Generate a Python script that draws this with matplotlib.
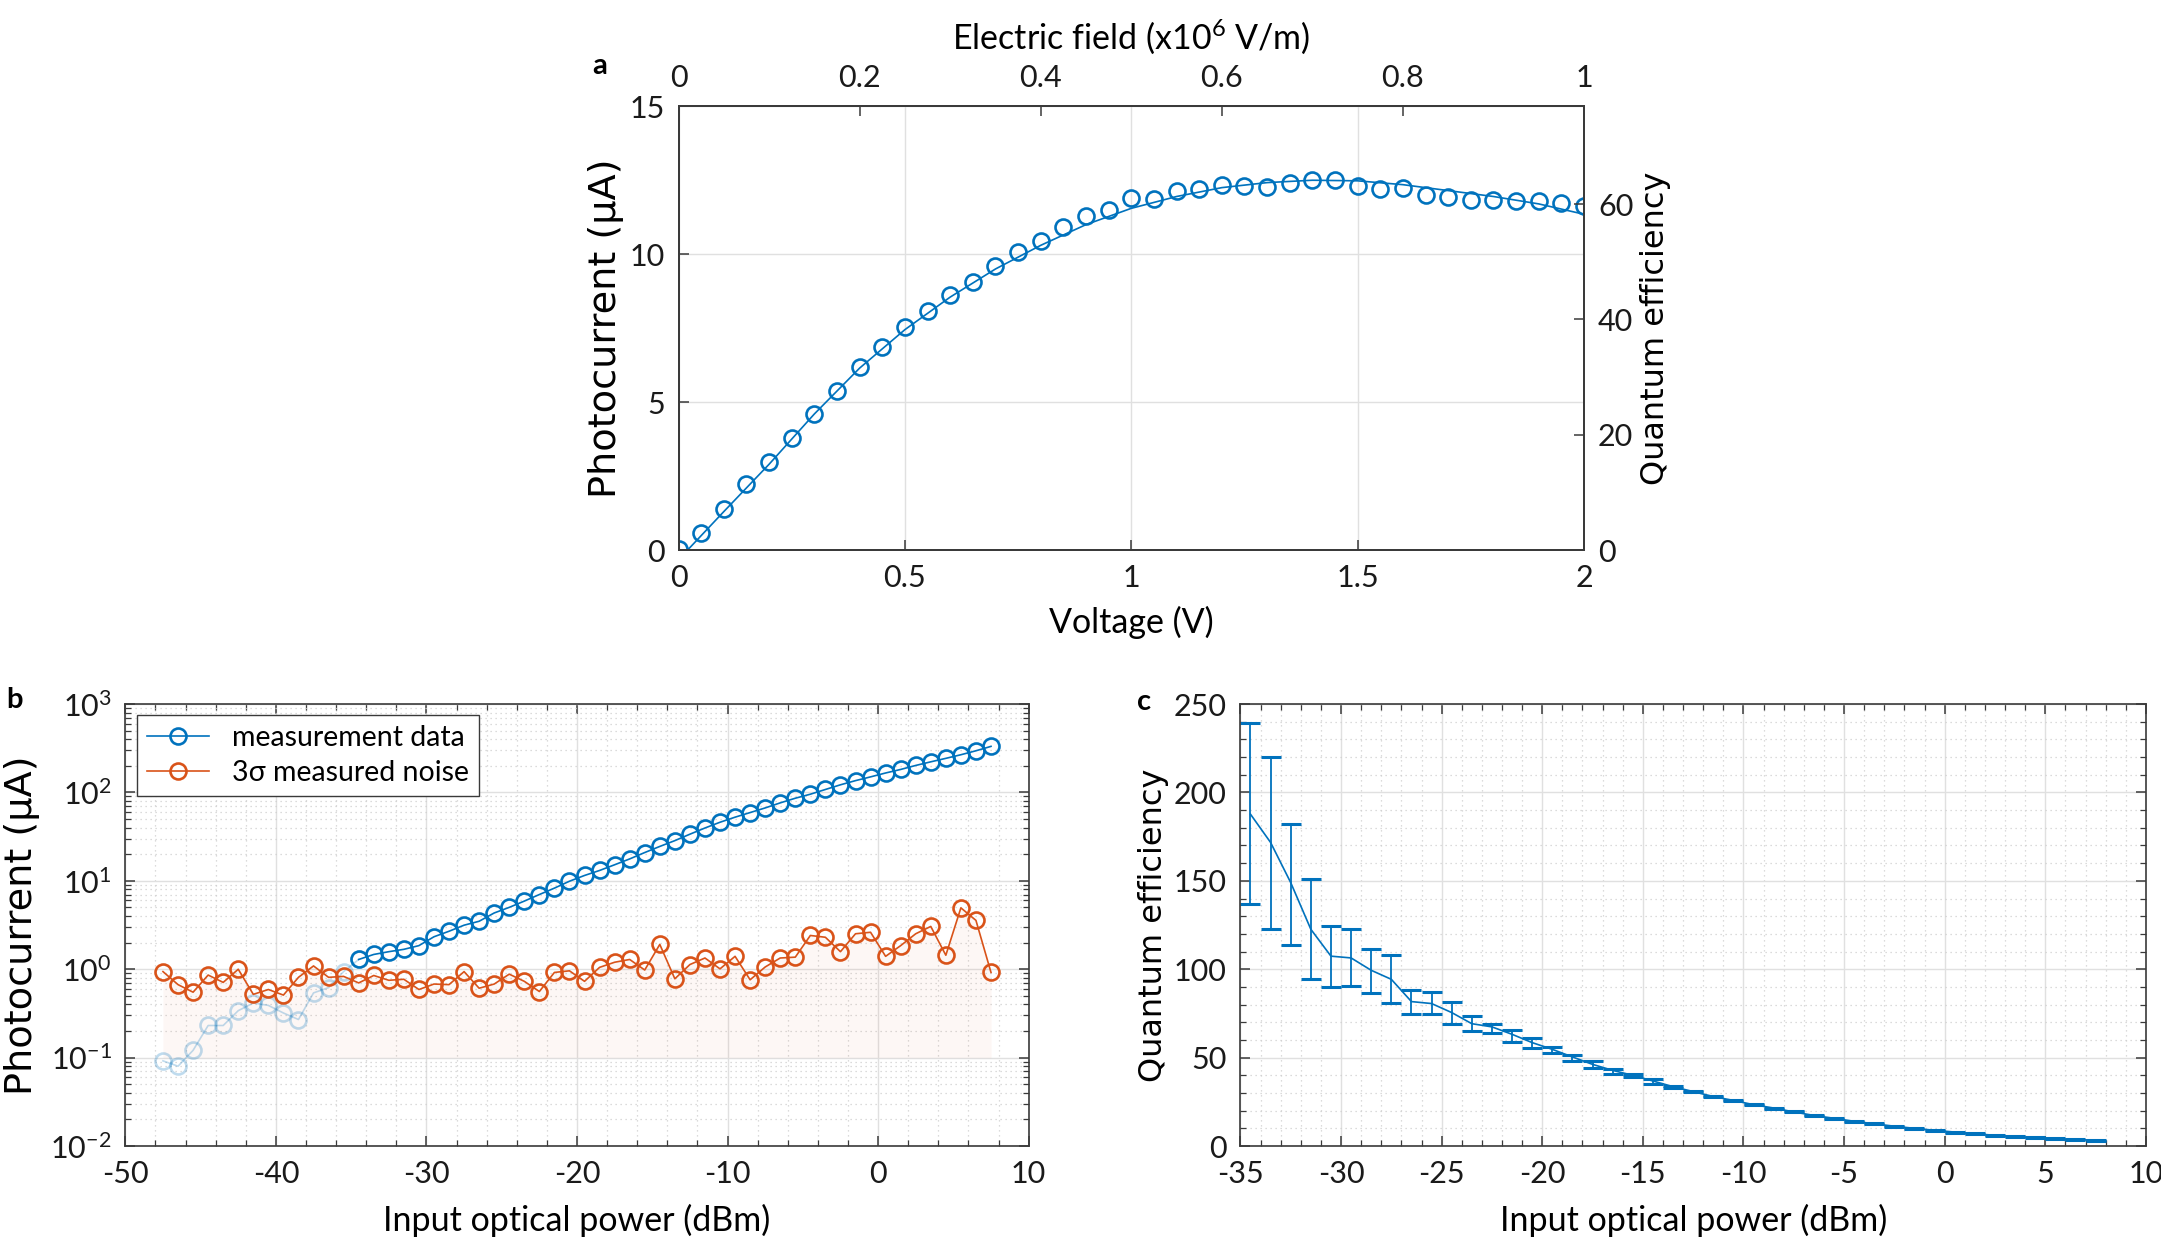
import numpy as np
import matplotlib
matplotlib.use("Agg")
import matplotlib.pyplot as plt
from matplotlib.ticker import MultipleLocator, LogLocator, NullFormatter, LogFormatterMathtext

plt.rcParams['font.family'] = ['Lato', 'DejaVu Sans']
plt.rcParams['mathtext.default'] = 'regular'
plt.rcParams['axes.unicode_minus'] = False

BLUE = '#0072BD'
RED = '#D95319'

# ---- panel a: photocurrent vs bias voltage
voltage = np.arange(0, 2.0001, 0.05)
current_a = [0.03, 0.56, 1.39, 2.24, 2.99, 3.80, 4.61, 5.38, 6.18, 6.86,
             7.54, 8.07, 8.62, 9.07, 9.61, 10.06, 10.45, 10.92, 11.28, 11.51,
             11.89, 11.86, 12.14, 12.20, 12.34, 12.31, 12.27, 12.41, 12.51, 12.51,
             12.31, 12.20, 12.23, 12.01, 11.92, 11.82, 11.82, 11.80, 11.80, 11.72,
             11.62]
fit_v = [0.02, 0.1, 0.2, 0.3, 0.4, 0.5, 0.6, 0.7, 0.8, 0.9, 1.0,
         1.1, 1.2, 1.3, 1.4, 1.5, 1.6, 1.7, 1.8, 1.9, 2.0]
fit_i = [0.0, 1.3, 2.9, 4.6, 6.15, 7.45, 8.55, 9.5, 10.3, 11.0, 11.55,
         11.95, 12.25, 12.42, 12.5, 12.48, 12.35, 12.15, 11.95, 11.7, 11.35]
v_ticks = [0, 0.5, 1, 1.5, 2]
v_labels = ['0', '0.5', '1', '1.5', '2']
e_ticks = [0, 0.2, 0.4, 0.6, 0.8, 1]
e_labels = ['0', '0.2', '0.4', '0.6', '0.8', '1']
qe_per_ua = 60 / 11.69

# ---- panel b: photocurrent and noise vs optical power
power_b = np.arange(-47.5, 7.6, 1.0)
signal_b = [0.092, 0.080, 0.121, 0.231, 0.231, 0.34, 0.415, 0.39, 0.32, 0.27,
            0.54, 0.62, 0.94, 1.29, 1.47, 1.58, 1.68, 1.85, 2.33, 2.69,
            3.15, 3.49, 4.33, 5.01, 5.9, 7.0, 8.27, 9.9, 11.5, 13.1,
            15.2, 17.7, 20.9, 24.5, 28.5, 33.7, 39.6, 46.0, 52.5, 59.2,
            66.8, 76.2, 86.0, 95.5, 108, 122, 136, 150, 166, 182,
            202, 222, 243, 267, 296, 332]
noise_b = [0.94, 0.67, 0.55, 0.86, 0.71, 1.0, 0.52, 0.59, 0.51, 0.81,
           1.09, 0.81, 0.83, 0.70, 0.85, 0.75, 0.77, 0.59, 0.68, 0.67,
           0.94, 0.61, 0.68, 0.88, 0.73, 0.56, 0.92, 0.96, 0.73, 1.05,
           1.2, 1.29, 0.98, 1.91, 0.78, 1.13, 1.34, 1.01, 1.40, 0.76,
           1.06, 1.34, 1.37, 2.41, 2.30, 1.58, 2.52, 2.62, 1.40, 1.85,
           2.52, 3.05, 1.44, 4.95, 3.57, 0.92]
n_faded = 13  # points below the noise floor, drawn washed out

# ---- panel c: quantum efficiency vs optical power
power_c = np.arange(-34.5, 7.6, 1.0)
qe = [187.7, 171.7, 149.0, 122.6, 107.4, 106.4, 99.4, 94.3, 81.7, 80.6,
      75.5, 69.2, 67.4, 63.2, 58.5, 54.7, 50.4, 46.2, 42.8, 40.0,
      36.8, 33.6, 30.8, 28.0, 25.8, 23.4, 21.5, 19.3, 17.3, 15.7,
      14.0, 12.6, 11.2, 10.0, 8.9, 7.9, 6.9, 6.1, 5.3, 4.7,
      4.1, 3.7, 3.3]
qe_hi = [239.0, 220.0, 182.0, 151.0, 124.3, 122.5, 111.5, 108.0, 88.3, 87.0,
         81.7, 73.4, 69.2, 65.8, 60.9, 56.0, 51.7, 47.9, 43.8, 40.6,
         37.7, 34.1, 31.3, 28.4, 26.2, 23.8, 21.8, 19.6, 17.6, 16.0,
         14.3, 12.9, 11.5, 10.3, 9.2, 8.2, 7.2, 6.4, 5.6, 5.0,
         4.4, 3.9, 3.5]
qe_lo = [136.8, 122.5, 113.8, 94.2, 90.0, 90.4, 86.8, 80.8, 74.5, 74.5,
         68.9, 65.1, 64.2, 59.0, 55.7, 52.6, 48.1, 44.3, 40.9, 39.1,
         35.1, 33.1, 30.3, 27.6, 25.4, 23.0, 21.2, 19.0, 17.0, 15.4,
         13.7, 12.3, 10.9, 9.7, 8.6, 7.6, 6.6, 5.8, 5.0, 4.4,
         3.8, 3.5, 3.1]

TICK_FS = 22
XLAB_FS = 24.5
PC_FS = 27.5
QE_FS = 23
MAJ_GRID = dict(color='#e0e0e0', linewidth=1.0)
MIN_GRID = dict(color='#d0d0d0', linewidth=0.9, linestyle=(0, (1, 3)))


def style_axes(ax):
    for s in ax.spines.values():
        s.set_color('#3a3a3a')
        s.set_linewidth(1.2)
    ax.tick_params(which='both', direction='in', labelsize=TICK_FS, colors='#3a3a3a',
                   labelcolor='#1a1a1a', pad=10)
    ax.tick_params(which='major', length=7, width=1.1)
    ax.tick_params(which='minor', length=4, width=0.9)


fig = plt.figure(figsize=(21.61, 12.43), dpi=100)

# ---------------- panel a
ax_a = fig.add_axes([0.314, 0.5575, 0.419, 0.357])
ax_a.plot(fit_v, fit_i, color=BLUE, lw=1.2)
ax_a.plot(voltage, current_a, 'o', mfc='none', mec=BLUE, ms=11.5, mew=1.9)
ax_a.set_xlim(0, 2)
ax_a.set_ylim(0, 15)
ax_a.set_xticks(v_ticks, labels=v_labels)
ax_a.set_yticks([0, 5, 10, 15])
ax_a.grid(True, **MAJ_GRID)
ax_a.set_axisbelow(True)
style_axes(ax_a)
ax_a.tick_params(right=False, top=False)
ax_a.set_xlabel('Voltage (V)', fontsize=XLAB_FS)
ax_a.xaxis.set_label_coords(0.5, -0.125)
ax_a.set_ylabel('Photocurrent (μA)', fontsize=PC_FS, family='DejaVu Sans')
ax_a.yaxis.set_label_coords(-0.06, 0.5)

ax_r = ax_a.twinx()
ax_r.set_ylim(0, 15 * qe_per_ua)
ax_r.set_yticks([0, 20, 40, 60])
style_axes(ax_r)
ax_r.set_ylabel('Quantum efficiency', fontsize=QE_FS, family='DejaVu Sans')
ax_r.yaxis.set_label_coords(1.062, 0.5)

ax_t = ax_a.twiny()
ax_t.set_xlim(0, 1)
ax_t.set_xticks(e_ticks, labels=e_labels)
style_axes(ax_t)
ax_t.set_xlabel('Electric field (x10$^{6}$ V/m)', fontsize=XLAB_FS)
ax_t.xaxis.set_label_coords(0.5, 1.13)

# ---------------- panel b
ax_b = fig.add_axes([0.058, 0.078, 0.418, 0.3556])
ax_b.set_yscale('log')
ax_b.fill_between(power_b, 0.1, noise_b, color=RED, alpha=0.045, lw=0)
ax_b.plot(power_b[:n_faded + 1], signal_b[:n_faded + 1], '-o', color=BLUE, alpha=0.25,
          mfc='none', ms=11.5, mew=1.9, lw=1.2)
ax_b.plot(power_b[n_faded:], signal_b[n_faded:], '-o', color=BLUE, mfc='none',
          ms=11.5, mew=1.9, lw=1.2, label='measurement data')
ax_b.plot(power_b, noise_b, '-o', color=RED, mfc='none', ms=11.5, mew=1.9, lw=1.2,
          label='3σ measured noise')
ax_b.set_xlim(-50, 10)
ax_b.set_ylim(1e-2, 1e3)
ax_b.xaxis.set_major_locator(MultipleLocator(10))
ax_b.xaxis.set_minor_locator(MultipleLocator(2))
ax_b.yaxis.set_major_locator(LogLocator(base=10, numticks=10))
ax_b.yaxis.set_major_formatter(LogFormatterMathtext())
ax_b.yaxis.set_minor_locator(LogLocator(base=10, subs=np.arange(2, 10), numticks=20))
ax_b.yaxis.set_minor_formatter(NullFormatter())
ax_b.grid(True, which='major', **MAJ_GRID)
ax_b.grid(True, which='minor', **MIN_GRID)
ax_b.set_axisbelow(True)
style_axes(ax_b)
ax_b.tick_params(which='both', top=True, right=True)
ax_b.set_xlabel('Input optical power (dBm)', fontsize=XLAB_FS)
ax_b.xaxis.set_label_coords(0.5, -0.13)
ax_b.set_ylabel('Photocurrent (μA)', fontsize=PC_FS, family='DejaVu Sans')
ax_b.yaxis.set_label_coords(-0.094, 0.5)
leg = ax_b.legend(loc='upper left', fontsize=20.5, fancybox=False, framealpha=1,
                  edgecolor='#3a3a3a', borderaxespad=0.4, handlelength=2.2,
                  borderpad=0.35, labelspacing=0.3)
leg.get_frame().set_linewidth(1.0)

# ---------------- panel c
ax_c = fig.add_axes([0.574, 0.078, 0.419, 0.3556])
yerr = [np.array(qe) - np.array(qe_lo), np.array(qe_hi) - np.array(qe)]
ax_c.errorbar(power_c, qe, yerr=yerr, color=BLUE, lw=1.2, elinewidth=1.3,
              capsize=7, capthick=2.2)
ax_c.set_xlim(-35, 10)
ax_c.set_ylim(0, 250)
ax_c.xaxis.set_major_locator(MultipleLocator(5))
ax_c.xaxis.set_minor_locator(MultipleLocator(1))
ax_c.yaxis.set_major_locator(MultipleLocator(50))
ax_c.yaxis.set_minor_locator(MultipleLocator(10))
ax_c.grid(True, which='major', **MAJ_GRID)
ax_c.grid(True, which='minor', **MIN_GRID)
ax_c.set_axisbelow(True)
style_axes(ax_c)
ax_c.tick_params(which='both', top=True, right=True)
ax_c.set_xlabel('Input optical power (dBm)', fontsize=XLAB_FS)
ax_c.xaxis.set_label_coords(0.5, -0.13)
ax_c.set_ylabel('Quantum efficiency', fontsize=QE_FS, family='DejaVu Sans')
ax_c.yaxis.set_label_coords(-0.079, 0.5)

fig.text(0.274, 0.947, 'a', fontsize=21, fontweight='bold', ha='left', va='center')
fig.text(0.003, 0.437, 'b', fontsize=21, fontweight='bold', ha='left', va='center')
fig.text(0.526, 0.435, 'c', fontsize=21, fontweight='bold', ha='left', va='center')

fig.savefig('out.png', dpi=100)
